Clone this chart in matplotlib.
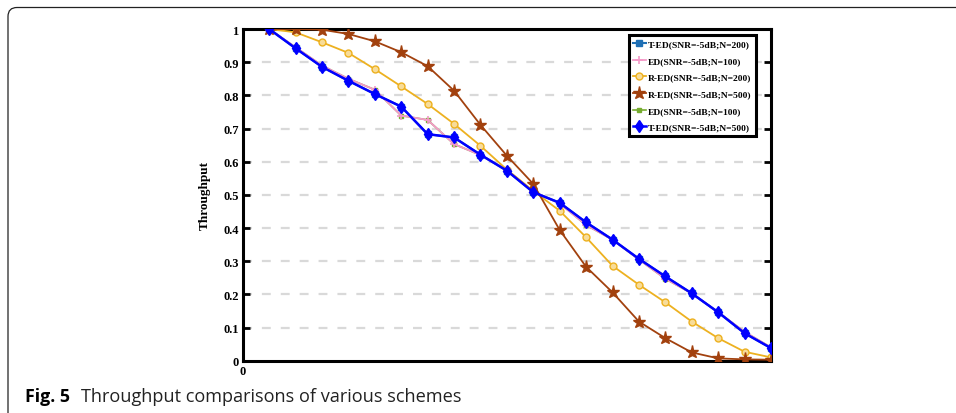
import numpy as np
import matplotlib
matplotlib.use("Agg")
import matplotlib.pyplot as plt
from matplotlib.patches import FancyBboxPatch

# x positions (sample index)
x = np.arange(1, 21)

# T-ED(SNR=-5dB;N=500)
ted_500 = [1.0, 0.942, 0.886, 0.844, 0.804, 0.766, 0.683, 0.673, 0.621, 0.573,
           0.508, 0.476, 0.417, 0.365, 0.307, 0.254, 0.203, 0.146, 0.083, 0.038]
# T-ED(SNR=-5dB;N=200) - hidden under the N=500 curve
ted_200 = ted_500
# ED(SNR=-5dB;N=100)
ed_100 = [1.0, 0.945, 0.890, 0.850, 0.817, 0.739, 0.726, 0.653, 0.620, 0.575,
          0.510, 0.474, 0.409, 0.365, 0.305, 0.247, 0.203, 0.146, 0.087, 0.040]
# R-ED(SNR=-5dB;N=200)
red_200 = [1.0, 0.990, 0.960, 0.928, 0.879, 0.827, 0.774, 0.714, 0.648, 0.576,
           0.512, 0.452, 0.372, 0.286, 0.229, 0.176, 0.118, 0.068, 0.027, 0.010]
# R-ED(SNR=-5dB;N=500)
red_500 = [1.0, 1.0, 0.998, 0.985, 0.963, 0.930, 0.888, 0.814, 0.711, 0.618,
           0.533, 0.394, 0.283, 0.206, 0.118, 0.068, 0.025, 0.007, 0.004, 0.003]

yticks = [0, 0.1, 0.2, 0.3, 0.4, 0.5, 0.6, 0.7, 0.8, 0.9, 1]
ytick_labels = ['0', '0.1', '0.2', '0.3', '0.4', '0.5', '0.6', '0.7', '0.8', '0.9', '1']

serif = ['Liberation Serif', 'DejaVu Serif']

fig = plt.figure(figsize=(9.56, 4.14), dpi=100)

# card border with rounded top-left corner
card = FancyBboxPatch((8, -30), 1000, 406 + 30 - 0.5,
                      boxstyle="round,pad=0,rounding_size=9",
                      transform=None, facecolor='white', edgecolor='#222222',
                      linewidth=0.9, zorder=-10)
fig.patches.append(card)

ax = fig.add_axes([0.2539, 0.1263, 0.5526, 0.8012])

ax.plot(x, ed_100, color='#77AC30', marker='s', markersize=3, linewidth=1.2,
        label='ED(SNR=-5dB;N=100)', zorder=2)
ax.plot(x, ted_200, color='#1F6FB4', marker='s', markersize=4, linewidth=1.5,
        label='T-ED(SNR=-5dB;N=200)', zorder=2)
ax.plot(x, ed_100, color='#F49AC8', marker='+', markersize=6, markeredgewidth=1.2,
        linewidth=1.3, label='ED(SNR=-5dB;N=100)', zorder=3)
ax.plot(x, red_200, color='#EDB120', marker='o', markersize=5, markerfacecolor='#F8DC98',
        markeredgewidth=1.0, linewidth=1.3, label='R-ED(SNR=-5dB;N=200)', zorder=3)
ax.plot(x, red_500, color='#A2410E', marker='*', markersize=9.5, linewidth=1.3,
        label='R-ED(SNR=-5dB;N=500)', zorder=4)
ax.plot(x, ted_500, color='#0000FF', marker='d', markersize=6, markeredgewidth=1.0,
        markerfacecolor='#0000FF', linewidth=1.8, label='T-ED(SNR=-5dB;N=500)', zorder=5)

ax.set_xlim(0, 20)
ax.set_ylim(0, 1)

for s in ['top', 'bottom', 'left', 'right']:
    ax.spines[s].set_linewidth(2.2)

ax.set_yticks(yticks)
ax.set_yticklabels(ytick_labels, fontfamily=serif, fontweight='bold', fontsize=9)
ax.tick_params(axis='y', direction='in', length=5, width=2, pad=3, right=True)
ax.set_xticks([0])
ax.set_xticklabels(['0'], fontfamily=serif, fontweight='bold', fontsize=9)
ax.tick_params(axis='x', length=0, pad=3)

ax.set_ylabel('Throughput', fontfamily=serif, fontweight='bold', fontsize=9.5, labelpad=9)

# dashed gridlines
ax.grid(axis='y', color='#D9D9D9', linestyle=(0, (4, 4.5)), linewidth=1.6)
for gl in ax.get_ygridlines()[:1] + ax.get_ygridlines()[-1:]:
    gl.set_visible(False)
ax.set_axisbelow(True)

# legend order as in the reference
h, l = ax.get_legend_handles_labels()
order = [1, 2, 3, 4, 0, 5]
leg = ax.legend([h[i] for i in order], [l[i] for i in order],
                loc='upper right', bbox_to_anchor=(0.972, 0.982),
                prop={'family': serif, 'weight': 'bold', 'size': 6.8},
                fancybox=False, edgecolor='black', framealpha=1,
                handlelength=1.3, handletextpad=0.25, labelspacing=0.85,
                borderpad=0.5, borderaxespad=0)
leg.get_frame().set_linewidth(2.2)

# caption
fig.text(25 / 956, 1 - 402 / 414, 'Fig. 5', fontfamily='Open Sans', fontweight='bold',
         fontsize=12.8, ha='left', va='baseline')
fig.text(81 / 956, 1 - 402 / 414, 'Throughput comparisons of various schemes',
         fontfamily='Open Sans', fontsize=13.1, ha='left', va='baseline', color='#222222')

fig.savefig('out.png', dpi=100)
